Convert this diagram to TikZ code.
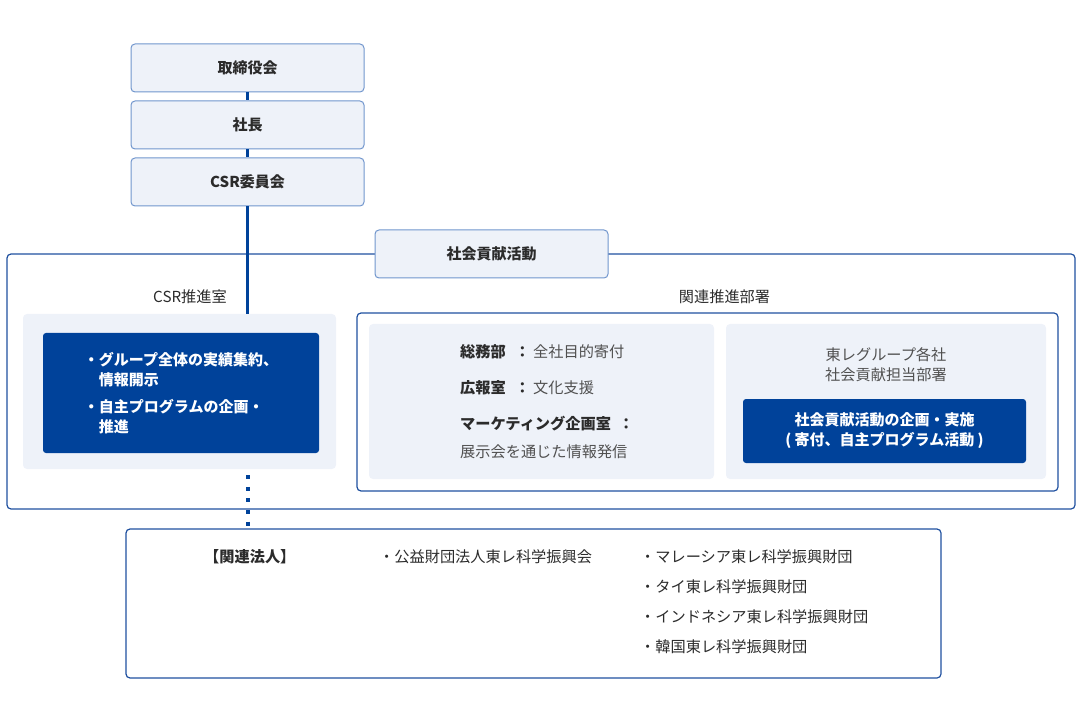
\documentclass[tikz,border=0pt]{standalone}
\usepackage{fontspec}
\setmainfont{Noto Sans CJK JP}
\definecolor{navy}{HTML}{00429A}
\definecolor{pale}{HTML}{EEF2F9}
\definecolor{edge}{HTML}{7196CD}
\definecolor{frame}{HTML}{1F509F}
\definecolor{ink}{HTML}{2B2B2B}
\definecolor{soft}{HTML}{505050}

\begin{document}
\begin{tikzpicture}[x=1pt,y=-1pt,font=\fontsize{15.2}{20}\selectfont,text=ink,
  headbox/.style={draw=edge,fill=pale,line width=1pt,rounded corners=4pt,
    minimum width=233pt,minimum height=48pt,font=\fontsize{15}{20}\selectfont\bfseries},
  framebox/.style={draw=frame,line width=1.2pt,rounded corners=4pt},
  panel/.style={fill=pale,rounded corners=4pt},
  navybox/.style={fill=navy,rounded corners=3pt,text=white,align=center,
    font=\fontsize{15}{20}\selectfont\bfseries},
  txt/.style={inner sep=0pt,anchor=west}]
\useasboundingbox (0,0) rectangle (1080,722);

% Frames:
\node[framebox,minimum width=1068pt,minimum height=255pt] (activity) at (541,381.5) {};
\node[framebox,minimum width=701pt,minimum height=178pt] (dept) at (707.5,402) {};
\node[framebox,minimum width=815pt,minimum height=149pt] (related) at (533.5,603.5) {};

% Top chain
\node[headbox] (board) at (247.5,68) {取締役会};
\node[headbox] (president) at (247.5,125) {社長};
\node[headbox] (csrcom) at (247.5,182) {CSR委員会};
\node[headbox] (tab) at (491.5,254) {社会貢献活動};

% CSR office
\node (csrlabel) at (190,297) {CSR推進室};
\node[panel,minimum width=313pt,minimum height=155pt] (csrpanel) at (179.5,391.5) {};
\node[navybox,minimum width=276pt,minimum height=120pt,align=left] (csrtask) at (181,393)
  {・グループ全体の実績集約、\\\hspace{1em}情報開示\\[7pt]
   ・自主プログラムの企画・\\\hspace{1em}推進};

% Related departments
\node (deptlabel) at (724.5,297) {関連推進部署};
\node[panel,minimum width=345pt,minimum height=155pt] (staffpanel) at (541.5,401.5) {};
\node[panel,minimum width=320pt,minimum height=155pt] (grouppanel) at (886,401.5) {};

\node[txt] (soumu) at (460,352) {\textbf{総務部}\hspace{0.6em}\textbf{：}\hspace{0.2em}\textcolor{soft}{全社目的寄付}};
\node[txt] (kouhou) at (460,388) {\textbf{広報室}\hspace{0.6em}\textbf{：}\hspace{0.2em}\textcolor{soft}{文化支援}};
\node[txt] (marketing) at (460,424) {\textbf{マーケティング企画室}\hspace{0.5em}\textbf{：}};
\node[txt,text=soft] (tenji) at (460,452) {展示会を通じた情報発信};

\node[align=center,text=soft] (grouplabel) at (886,365) {東レグループ各社\\社会貢献担当部署};
\node[navybox,minimum width=283pt,minimum height=64pt] (grouptask) at (884.5,431)
  {社会貢献活動の企画・実施\\( 寄付、自主プログラム活動 )};

% Related corporations
\node[txt] (corp) at (204,557) {\textbf{【関連法人】}};
\node[txt] (kouei) at (379,557) {・公益財団法人東レ科学振興会};
\foreach \t [count=\i] in {マレーシア東レ科学振興財団,タイ東レ科学振興財団,
    インドネシア東レ科学振興財団,韓国東レ科学振興財団}
  \node[txt] (found\i) at (640,{527+30*\i}) {・\t};

% Lines
\begin{scope}[navy,line width=3pt]
\draw (board) -- (president);
\draw (president) -- (csrcom);
\draw (csrcom) -- (csrcom.south |- csrpanel.north);
\draw[line width=4pt,dash pattern=on 4pt off 7.6pt]
  ([yshift=-6pt]csrcom.south |- csrpanel.south) -- ([yshift=2pt]csrcom.south |- related.north);
\end{scope}
\end{tikzpicture}
\end{document}
